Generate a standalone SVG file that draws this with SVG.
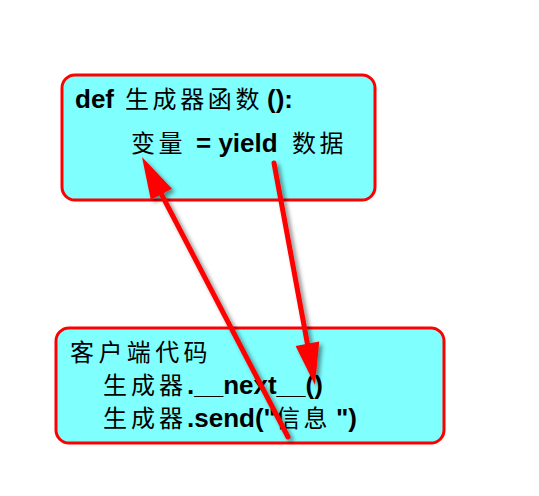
<svg xmlns="http://www.w3.org/2000/svg" width="539" height="496" viewBox="0 0 539 496">
<defs>
<style>
.box{fill:#80FFFF;stroke:#FF0000;stroke-width:3}
.t{font-family:"Liberation Sans","Noto Sans CJK SC",sans-serif;font-size:26px;fill:#000}
.b{font-weight:bold}
.c{font-family:"Noto Sans CJK SC","Liberation Sans",sans-serif;font-weight:normal;font-size:24px;letter-spacing:3.6px}
.ln{stroke:#FF0000;stroke-width:5;fill:none;stroke-linecap:round}
.hd{fill:#FF0000}
</style>
<filter id="sh" x="-20%" y="-20%" width="140%" height="140%">
<feDropShadow dx="3" dy="3" stdDeviation="2" flood-color="#000" flood-opacity="0.45"/>
</filter>
</defs>
<rect width="539" height="496" fill="#FFFFFF"/>
<g id="node-generator">
<rect class="box" x="62" y="75" width="313" height="125" rx="13"/>
<text class="t" y="108"><tspan class="b" x="75">def</tspan><tspan class="c" x="125">生成器函数</tspan><tspan class="b" x="267">():</tspan></text>
<text class="t" y="152"><tspan class="c" x="131">变量</tspan><tspan class="b" x="196">= yield</tspan><tspan class="c" x="292">数据</tspan></text>
</g>
<g id="node-client">
<rect class="box" x="56" y="328" width="388" height="115" rx="13"/>
<text class="t" y="361"><tspan class="c" x="70" style="letter-spacing:4.4px">客户端代码</tspan></text>
<text class="t" y="394"><tspan class="c" x="103" style="letter-spacing:4px">生成器</tspan><tspan class="b" x="187">.__next__()</tspan></text>
<text class="t" y="427"><tspan class="c" x="103" style="letter-spacing:4px">生成器</tspan><tspan class="b" x="187">.send("</tspan><tspan class="c" x="276">信息</tspan><tspan class="b" x="336">")</tspan></text>
</g>
<g id="connectors">
<g id="edge-send" filter="url(#sh)">
<line class="ln" x1="288" y1="437" x2="155.9" y2="183.6"/>
<polygon class="hd" points="142,157 172,188.7 150.8,199.7"/>
</g>
<g id="edge-yield" filter="url(#sh)">
<line class="ln" x1="274" y1="163" x2="309.6" y2="355.5"/>
<polygon class="hd" points="315,385 319.2,341.5 295.6,345.9"/>
</g>
</g>
</svg>
